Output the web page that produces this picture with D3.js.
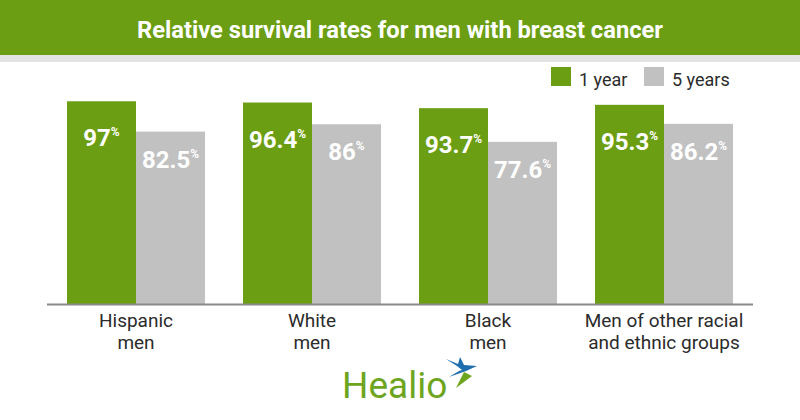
<!DOCTYPE html>
<html><head><meta charset="utf-8">
<script src="https://cdn.jsdelivr.net/npm/d3@7"></script>
<style>
body{margin:0;background:#fff;}
svg{display:block;font-family:Roboto,"Noto Sans",sans-serif;}
</style></head>
<body><svg id="c" width="800" height="420"></svg>
<script>
const title = "Relative survival rates for men with breast cancer";
const categories = [["Hispanic","men"],["White","men"],["Black","men"],["Men of other racial","and ethnic groups"]];
const seriesNames = ["1 year","5 years"];
const oneYear = [97, 96.4, 93.7, 95.3];
const fiveYears = [82.5, 86, 77.6, 86.2];
const valueLabels1 = ["97","96.4","93.7","95.3"];
const valueLabels5 = ["82.5","86","77.6","86.2"];
const colors = ["#6b9e12","#c1c1c1"];

const svg = d3.select("#c");
// header
svg.append("rect").attr("x",0).attr("y",0).attr("width",800).attr("height",55).attr("fill","#6b9e12");
svg.append("rect").attr("x",0).attr("y",55).attr("width",800).attr("height",7).attr("fill","#e3e3e3");
svg.append("text").attr("x",400).attr("y",38).attr("text-anchor","middle")
  .attr("fill","#fff").attr("font-weight","700").attr("font-size",23)
  .attr("textLength",526).attr("lengthAdjust","spacingAndGlyphs").text(title);

const x0 = d3.scaleBand().domain(d3.range(categories.length)).range([67,733]).paddingInner(0.216).paddingOuter(0);
const x1 = d3.scaleBand().domain([0,1]).range([0,x0.bandwidth()]);
const y = d3.scaleLinear().domain([0,100]).range([304,95]);

const data = categories.map((c,i)=>[
  {s:0,v:oneYear[i],lab:valueLabels1[i]},
  {s:1,v:fiveYears[i],lab:valueLabels5[i]}
]);

const g = svg.append("g");
const groups = g.selectAll("g.grp").data(data).join("g").attr("class","grp")
  .attr("transform",(d,i)=>`translate(${x0(i)},0)`);
groups.selectAll("rect").data(d=>d).join("rect")
  .attr("x",d=>x1(d.s)).attr("width",x1.bandwidth())
  .attr("y",d=>y(d.v)).attr("height",d=>y(0)-y(d.v))
  .attr("fill",d=>colors[d.s]);
const lbl = groups.selectAll("text").data(d=>d).join("text")
  .attr("x",d=>x1(d.s)+x1.bandwidth()/2)
  .attr("y",d=>y(d.v)+(d.s===0?45:36))
  .attr("text-anchor","middle").attr("fill","#fff").attr("font-weight","700").attr("font-size",24);
lbl.append("tspan").text(d=>d.lab);
lbl.append("tspan").attr("font-size",12).attr("dy",-10).text("%");

// axis line
svg.append("line").attr("x1",47).attr("x2",753).attr("y1",y(0)+0.5).attr("y2",y(0)+0.5)
  .attr("stroke","#8a8a8a").attr("stroke-width",2);

// category labels (one text per line)
categories.forEach((lines,i)=>{
  lines.forEach((t,j)=>{
    svg.append("text").attr("class","cat")
      .attr("x",x0(i)+x0.bandwidth()/2).attr("y",327+j*22)
      .attr("text-anchor","middle").attr("font-size",19).attr("fill","#2b2b2b").text(t);
  });
});

// legend
const leg = svg.append("g");
const legX = [551,644];
seriesNames.forEach((n,i)=>{
  leg.append("rect").attr("x",legX[i]).attr("y",67).attr("width",20).attr("height",19).attr("fill",colors[i]);
  leg.append("text").attr("x",legX[i]+28).attr("y",86).attr("font-size",18).attr("fill","#2b2b2b").text(n);
});

// Healio logo
svg.append("text").attr("x",342).attr("y",398).attr("font-size",37).attr("fill","#6ea51e")
  .attr("font-family","Roboto, sans-serif").text("Healio");
const star = svg.append("g").attr("transform","translate(462,370)");
star.append("path").attr("d","M0,0 L-5,-4 L-16,-11 L-4,-6 L-2,-13 L2,-5 L15,-4 L4,1 L-13,7 L-3,1 Z").attr("fill","#1f6fae");
star.append("path").attr("d","M2,2 L10,6 L-6,18 Z").attr("fill","#6ea51e");
</script></body></html>
